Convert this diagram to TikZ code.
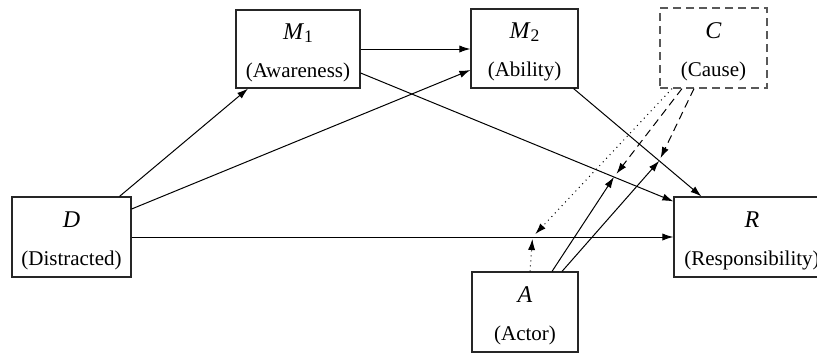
\documentclass[tikz,border=0pt]{standalone}
\usepackage{fontspec}
\setmainfont{Liberation Serif}
\usetikzlibrary{arrows.meta}
\newcommand{\myvar}[2]{{\rule{0pt}{11.5pt}\fontsize{12}{13}\selectfont\textit{#1}\raisebox{-0.28ex}{\fontsize{8.8}{9}\selectfont #2}}}
\tikzset{
  box/.style={draw=black!85, line width=0.6pt, inner sep=0pt, align=center,
    font=\fontsize{10.5}{13}\selectfont},
  edge/.style={line width=0.5pt, -{Latex[length=5.5pt,width=3.6pt]}},
  modedge/.style={edge, dash pattern=on 4pt off 2.5pt},
  dotedge/.style={edge, dotted},
}
\begin{document}
\begin{tikzpicture}[x=0.5pt,y=-0.5pt]
\useasboundingbox (0,0) rectangle (817,354);
\clip (0,0) rectangle (817,354);
\node[box, minimum width=62pt, minimum height=39pt] (M1) at (298,49) {\myvar{M}{1}\\[6pt](Awareness)};
\node[box, minimum width=53.5pt, minimum height=39.5pt] (M2) at (524.5,48.5) {\myvar{M}{2}\\[6pt](Ability)};
\node[box, draw=black!65, dash pattern=on 4pt off 2.5pt, minimum width=53.5pt, minimum height=40pt] (C) at (713.5,48) {\myvar{C}{}\\[6pt](Cause)};
\node[box, minimum width=59.5pt, minimum height=40pt] (D) at (71.5,237) {\myvar{D}{}\\[6pt](Distracted)};
\node[box, minimum width=78pt, minimum height=40pt] (R) at (752,237) {\myvar{R}{}\\[6pt](Responsibility)};
\node[box, minimum width=53pt, minimum height=40pt] (A) at (525,312) {\myvar{A}{}\\[6pt](Actor)};

\draw[edge] ([xshift=24pt]D.north) -- ([xshift=-25pt]M1.south);
\draw[edge] ([yshift=14pt]D.east) -- ([yshift=-10.75pt]M2.west);
\draw[edge] (D.east) -- coordinate[pos=0.74] (dr) (R.west);
\draw[edge] (M1.east) -- (M1.east -| M2.west);
\draw[edge] ([yshift=-12pt]M1.east) -- coordinate[pos=0.81] (m1r) ([yshift=-2.5pt]R.north west);
\draw[edge] ([xshift=-2.5pt]M2.south east) -- coordinate[pos=0.67] (m2r) ([xshift=14pt]R.north west);

\draw[edge] ([xshift=13.5pt]A.north) -- (m1r);
\draw[edge] ([xshift=18.5pt]A.north) -- (m2r);
\draw[modedge, shorten >=2pt] ([xshift=-15.75pt]C.south) -- (m1r);
\draw[modedge, shorten >=1.5pt] ([xshift=-9.75pt]C.south) -- (m2r);
\draw[dotedge, shorten >=2pt] ([xshift=-20.75pt]C.south) -- (dr);
\draw[dotedge, shorten >=1pt] ([xshift=2.5pt]A.north) -- (dr);
\end{tikzpicture}
\end{document}
